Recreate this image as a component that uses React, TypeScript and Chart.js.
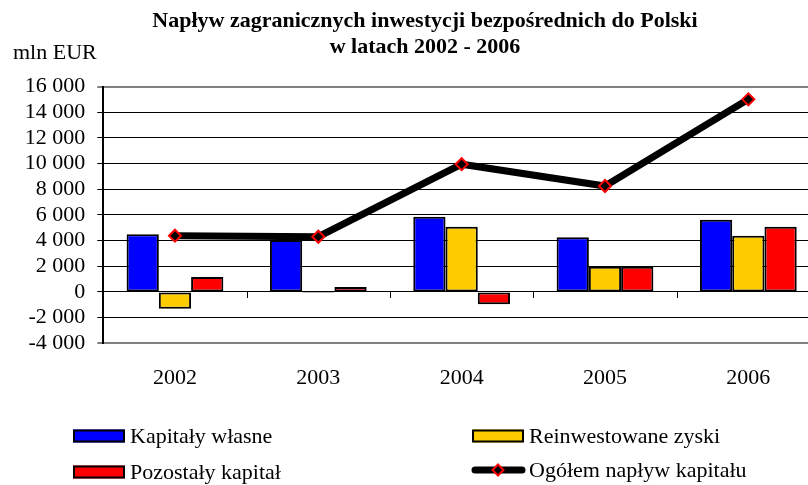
import React, { useEffect, useRef } from "react";
import { Chart, registerables } from "chart.js";

Chart.register(...registerables);

const years = ["2002", "2003", "2004", "2005", "2006"];
const kapitalyWlasne = [4500, 4050, 5850, 4250, 5630];
const reinwestowaneZyski = [-1300, -80, 5070, 1970, 4380];
const pozostalyKapital = [1170, 380, -960, 1970, 5070];
const ogolem = [4380, 4300, 9950, 8250, 15000];

const titleLines = ["Napływ zagranicznych inwestycji bezpośrednich do Polski", "w latach 2002 - 2006"];
const unitLabel = "mln EUR";

const CW = 860;
const CH = 485;
const SERIF = "'Liberation Serif', 'Times New Roman', serif";

const extrasPlugin = {
  id: "extras",
  afterDraw(chart: any) {
    const ctx = chart.ctx;
    const xs = chart.scales.x;
    const ys = chart.scales.y;
    ctx.save();
    // category tick marks on zero line
    const y0 = ys.getPixelForValue(0);
    ctx.strokeStyle = "#000";
    ctx.lineWidth = 1;
    const n = chart.data.labels.length;
    const step = n > 1 ? xs.getPixelForValue(1) - xs.getPixelForValue(0) : xs.width;
    for (let i = 0; i <= n; i++) {
      const px = Math.round(xs.getPixelForValue(0) - step / 2 + i * step) + 0.5;
      ctx.beginPath();
      ctx.moveTo(px, y0);
      ctx.lineTo(px, y0 + 6);
      ctx.stroke();
    }
    // title
    ctx.fillStyle = "#000";
    ctx.textAlign = "center";
    ctx.textBaseline = "middle";
    ctx.font = "bold 22px " + SERIF;
    ctx.fillText(titleLines[0], 425, 21);
    ctx.fillText(titleLines[1], 425, 47);
    // unit
    ctx.font = "22px " + SERIF;
    ctx.textAlign = "left";
    ctx.fillText(unitLabel, 13, 53);
    // legend
    const ds = chart.data.datasets;
    const items = [
      { d: ds[1], x: 73, y: 436 },
      { d: ds[2], x: 472, y: 436 },
      { d: ds[3], x: 73, y: 472 },
      { d: ds[0], x: 472, y: 470 },
    ];
    items.forEach((it) => {
      const d = it.d;
      if (d.type === "line") {
        ctx.strokeStyle = "#000";
        ctx.lineWidth = 7;
        ctx.lineCap = "round";
        ctx.beginPath();
        ctx.moveTo(it.x + 3, it.y);
        ctx.lineTo(it.x + 50, it.y);
        ctx.stroke();
        ctx.lineCap = "butt";
        const cx = it.x + 26;
        const r = 5.5;
        ctx.beginPath();
        ctx.moveTo(cx, it.y - r);
        ctx.lineTo(cx + r, it.y);
        ctx.lineTo(cx, it.y + r);
        ctx.lineTo(cx - r, it.y);
        ctx.closePath();
        ctx.fillStyle = "#000";
        ctx.fill();
        ctx.strokeStyle = "#ff0000";
        ctx.lineWidth = 2;
        ctx.stroke();
      } else {
        ctx.fillStyle = d.backgroundColor;
        ctx.fillRect(it.x, it.y - 6.5, 52, 13);
        ctx.strokeStyle = "#000";
        ctx.lineWidth = 2;
        ctx.strokeRect(it.x + 1, it.y - 5.5, 50, 11);
      }
      ctx.fillStyle = "#000";
      ctx.font = "22px " + SERIF;
      ctx.textAlign = "left";
      ctx.textBaseline = "middle";
      ctx.fillText(d.label, it.x + 57, it.y + 1);
    });
    ctx.restore();
  },
};

export default function App() {
  const ref = useRef<HTMLCanvasElement | null>(null);
  useEffect(() => {
    if (!ref.current) return;
    const barCommon = {
      type: "bar" as const,
      borderColor: "#000",
      borderWidth: 2,
      borderSkipped: false,
      barPercentage: 1,
      categoryPercentage: 0.675,
      order: 2,
    };
    const chart = new Chart(ref.current, {
      type: "bar",
      data: {
        labels: years,
        datasets: [
          {
            type: "line",
            label: "Ogółem napływ kapitału",
            data: ogolem,
            borderColor: "#000",
            borderWidth: 7,
            backgroundColor: "#000",
            pointStyle: "rectRot",
            pointRadius: 6,
            pointBackgroundColor: "#000",
            pointBorderColor: "#ff0000",
            pointBorderWidth: 2,
            tension: 0,
            order: 0,
          } as any,
          { ...barCommon, label: "Kapitały własne", data: kapitalyWlasne, backgroundColor: "#0000ff" },
          { ...barCommon, label: "Reinwestowane zyski", data: reinwestowaneZyski, backgroundColor: "#ffcc00" },
          { ...barCommon, label: "Pozostały kapitał", data: pozostalyKapital, backgroundColor: "#ff0000" },
        ],
      },
      options: {
        responsive: false,
        animation: false,
        devicePixelRatio: 1,
        layout: { padding: { left: 0, right: 40, top: 86.5, bottom: 0 } },
        plugins: { legend: { display: false }, title: { display: false }, tooltip: { enabled: false } },
        scales: {
          x: {
            grid: { display: false, drawTicks: false },
            border: { display: false },
            ticks: { color: "#000", font: { family: SERIF, size: 22 }, padding: 22, maxRotation: 0 },
            afterFit: (s: any) => {
              s.height = 141.7;
            },
          },
          y: {
            min: -4000,
            max: 16000,
            ticks: {
              stepSize: 2000,
              autoSkip: false,
              color: "#000",
              padding: 12,
              font: { family: SERIF, size: 22 },
              callback: (v: any) => {
                const n = Number(v);
                const s = Math.abs(n).toString().replace(/\B(?=(\d{3})+(?!\d))/g, " ");
                return (n < 0 ? "-" : "") + s;
              },
            },
            grid: {
              color: (c: any) => (c.tick && (c.tick.value === 16000 || c.tick.value === -4000) ? "#808080" : "#000"),
              lineWidth: (c: any) => (c.tick && (c.tick.value === 16000 || c.tick.value === -4000) ? 2 : 1),
              tickColor: "#000",
              tickLength: 6,
              tickWidth: 1,
            },
            border: { display: true, color: "#000", width: 2 },
            afterFit: (s: any) => {
              s.width = 103.3;
            },
          },
        },
      },
      plugins: [extrasPlugin],
    } as any);
    return () => chart.destroy();
  }, []);
  return (
    <div style={{ position: "fixed", left: 0, top: 0, width: 808, height: 485, overflow: "hidden", background: "#fff" }}>
      <canvas ref={ref} width={CW} height={CH} style={{ width: CW, height: CH, display: "block" }} />
    </div>
  );
}
